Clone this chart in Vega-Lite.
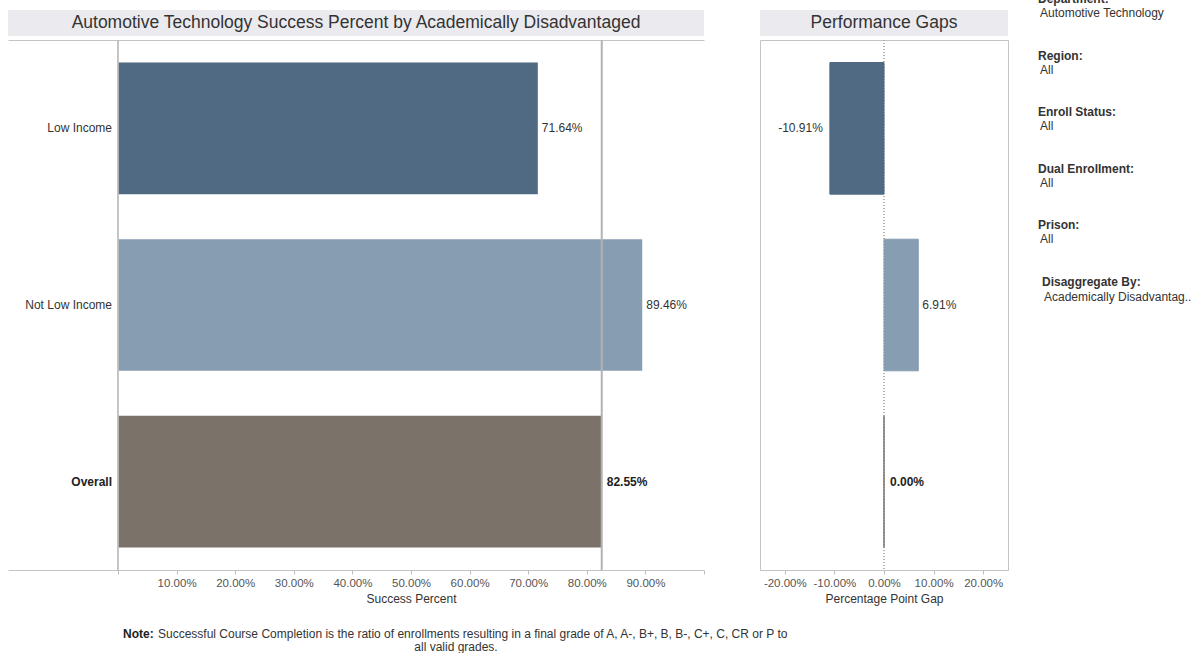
{
  "$schema": "https://vega.github.io/schema/vega-lite/v6.json",
  "background": "white",
  "padding": {"left": 8, "top": -7, "right": 0, "bottom": 0},
  "config": {
    "font": "Liberation Sans",
    "view": {"stroke": null},
    "locale": {
      "number": {"decimal": ".", "thousands": ",", "grouping": [3], "currency": ["$", ""], "minus": "-"}
    },
    "axis": {
      "labelFont": "Liberation Sans",
      "labelFontSize": 11.5,
      "labelColor": "#555555",
      "titleFont": "Liberation Sans",
      "titleFontSize": 12,
      "titleFontWeight": "normal",
      "titleColor": "#333333",
      "tickColor": "#BDBDBD",
      "domainColor": "#C4C4C4",
      "tickSize": 4,
      "labelPadding": 3,
      "titlePadding": 5,
      "grid": false
    }
  },
  "datasets": {
    "groups": [
      {"group": "Low Income", "success": 0.7164, "gap": -0.1091},
      {"group": "Not Low Income", "success": 0.8946, "gap": 0.0691},
      {"group": "Overall", "success": 0.8255, "gap": 0.0}
    ],
    "filters": [
      {"filter": "Department:", "setting": "Automotive Technology"},
      {"filter": "Region:", "setting": "All"},
      {"filter": "Enroll Status:", "setting": "All"},
      {"filter": "Dual Enrollment:", "setting": "All"},
      {"filter": "Prison:", "setting": "All"},
      {"filter": "Disaggregate By:", "setting": "Academically Disadvantag.."}
    ]
  },
  "spacing": 22,
  "vconcat": [
    {
      "spacing": 29,
      "hconcat": [
        {
          "spacing": 54,
          "hconcat": [
            {
              "spacing": 3,
              "vconcat": [
                {
                  "width": 696,
                  "height": 26,
                  "view": {"fill": "#EBEBEF", "stroke": null},
                  "data": {"values": [{"heading": "Automotive Technology Success Percent by Academically Disadvantaged"}]},
                  "mark": {"type": "text", "fontSize": 17.5, "color": "#333333", "baseline": "middle"},
                  "encoding": {"text": {"field": "heading"}}
                },
                {
                  "width": 696,
                  "height": 530,
                  "data": {"name": "groups"},
                  "resolve": {"axis": {"x": "independent"}},
                  "layer": [
                    {
                      "mark": {"type": "bar"},
                      "encoding": {
                        "y": {"field": "group", "type": "nominal", "sort": null, "title": null,
                              "scale": {"paddingInner": 0.255, "paddingOuter": 0.1275},
                              "axis": {"orient": "right", "labels": false, "ticks": false, "title": null, "domainColor": "#C4C4C4"}},
                        "x": {"field": "success", "type": "quantitative",
                              "scale": {"domain": [-0.18771, 1], "nice": false, "zero": false},
                              "axis": {"orient": "bottom", "title": "Success Percent", "titleX": 403, "format": ".2%",
                                       "values": [0, 0.1, 0.2, 0.3, 0.4, 0.5, 0.6, 0.7, 0.8, 0.9, 1],
                                       "labelExpr": "datum.value < 0.001 || datum.value > 0.999 ? '' : datum.label"}},
                        "color": {"field": "group", "type": "nominal",
                                  "scale": {"domain": ["Low Income", "Not Low Income", "Overall"], "range": ["#4F6A82", "#879DB2", "#7B736A"]},
                                  "legend": null}
                      }
                    },
                    {
                      "mark": {"type": "rule", "color": "#BDBDBD"},
                      "encoding": {
                        "x": {"datum": 0, "type": "quantitative",
                              "axis": {"orient": "top", "labels": false, "ticks": false, "title": null, "domainColor": "#C4C4C4"}}
                      }
                    },
                    {
                      "transform": [{"filter": "datum.group === 'Overall'"}],
                      "mark": {"type": "rule", "color": "#B3B3B3", "strokeWidth": 2},
                      "encoding": {"x": {"field": "success", "type": "quantitative", "axis": null}}
                    },
                    {
                      "transform": [{"filter": "datum.group !== 'Overall'"}],
                      "mark": {"type": "text", "align": "right", "baseline": "middle", "dx": -6, "fontSize": 12, "color": "#333333"},
                      "encoding": {
                        "y": {"field": "group", "type": "nominal", "sort": null, "axis": null},
                        "x": {"datum": 0, "type": "quantitative", "axis": null},
                        "text": {"field": "group"}
                      }
                    },
                    {
                      "transform": [{"filter": "datum.group === 'Overall'"}],
                      "mark": {"type": "text", "align": "right", "baseline": "middle", "dx": -6, "fontSize": 12, "fontWeight": "bold", "color": "#222222"},
                      "encoding": {
                        "y": {"field": "group", "type": "nominal", "sort": null, "axis": null},
                        "x": {"datum": 0, "type": "quantitative", "axis": null},
                        "text": {"field": "group"}
                      }
                    },
                    {
                      "transform": [{"filter": "datum.group !== 'Overall'"}],
                      "mark": {"type": "text", "align": "left", "baseline": "middle", "dx": 4, "fontSize": 12, "color": "#333333"},
                      "encoding": {
                        "y": {"field": "group", "type": "nominal", "sort": null, "axis": null},
                        "x": {"field": "success", "type": "quantitative", "axis": null},
                        "text": {"field": "success", "type": "quantitative", "format": ".2%"}
                      }
                    },
                    {
                      "transform": [{"filter": "datum.group === 'Overall'"}],
                      "mark": {"type": "text", "align": "left", "baseline": "middle", "dx": 5, "fontSize": 12, "fontWeight": "bold", "color": "#222222"},
                      "encoding": {
                        "y": {"field": "group", "type": "nominal", "sort": null, "axis": null},
                        "x": {"field": "success", "type": "quantitative", "axis": null},
                        "text": {"field": "success", "type": "quantitative", "format": ".2%"}
                      }
                    }
                  ]
                }
              ]
            },
            {
              "spacing": 3,
              "vconcat": [
                {
                  "width": 248,
                  "height": 26,
                  "view": {"fill": "#EBEBEF", "stroke": null},
                  "data": {"values": [{"heading": "Performance Gaps"}]},
                  "mark": {"type": "text", "fontSize": 17.5, "color": "#333333", "baseline": "middle"},
                  "encoding": {"text": {"field": "heading"}}
                },
                {
                  "width": 248,
                  "height": 530,
                  "view": {"stroke": "#C4C4C4"},
                  "data": {"name": "groups"},
                  "layer": [
                    {
                      "mark": {"type": "rule", "color": "#A8A8A8", "strokeDash": [1, 2]},
                      "encoding": {"x": {"datum": 0, "type": "quantitative"}}
                    },
                    {
                      "mark": {"type": "bar", "strokeWidth": 1},
                      "encoding": {
                        "y": {"field": "group", "type": "nominal", "sort": null,
                              "scale": {"paddingInner": 0.255, "paddingOuter": 0.1275}, "axis": null},
                        "x": {"field": "gap", "type": "quantitative",
                              "scale": {"domain": [-0.25, 0.25], "nice": false, "zero": false},
                              "axis": {"title": "Percentage Point Gap", "format": ".2%",
                                       "values": [-0.2, -0.1, 0, 0.1, 0.2]}},
                        "color": {"field": "group", "type": "nominal",
                                  "scale": {"domain": ["Low Income", "Not Low Income", "Overall"], "range": ["#4F6A82", "#879DB2", "#7B736A"]},
                                  "legend": null},
                        "stroke": {"field": "group", "type": "nominal",
                                   "scale": {"domain": ["Low Income", "Not Low Income", "Overall"], "range": ["#4F6A82", "#879DB2", "#7B736A"]},
                                   "legend": null}
                      }
                    },
                    {
                      "transform": [{"filter": "datum.gap < 0"}],
                      "mark": {"type": "text", "align": "right", "baseline": "middle", "dx": -7, "fontSize": 12, "color": "#333333"},
                      "encoding": {
                        "y": {"field": "group", "type": "nominal", "sort": null, "axis": null},
                        "x": {"field": "gap", "type": "quantitative"},
                        "text": {"field": "gap", "type": "quantitative", "format": ".2%"}
                      }
                    },
                    {
                      "transform": [{"filter": "datum.gap > 0"}],
                      "mark": {"type": "text", "align": "left", "baseline": "middle", "dx": 4, "fontSize": 12, "color": "#333333"},
                      "encoding": {
                        "y": {"field": "group", "type": "nominal", "sort": null, "axis": null},
                        "x": {"field": "gap", "type": "quantitative"},
                        "text": {"field": "gap", "type": "quantitative", "format": ".2%"}
                      }
                    },
                    {
                      "transform": [{"filter": "datum.gap === 0"}],
                      "mark": {"type": "text", "align": "left", "baseline": "middle", "dx": 6, "fontSize": 12, "fontWeight": "bold", "color": "#222222"},
                      "encoding": {
                        "y": {"field": "group", "type": "nominal", "sort": null, "axis": null},
                        "x": {"field": "gap", "type": "quantitative"},
                        "text": {"field": "gap", "type": "quantitative", "format": ".2%"}
                      }
                    }
                  ]
                }
              ]
            }
          ]
        },
        {
          "width": 154,
          "height": 310,
          "data": {"name": "filters"},
          "encoding": {
            "y": {"field": "filter", "type": "nominal", "sort": null,
                  "scale": {"type": "point", "padding": 0.24, "align": 0}, "axis": null},
            "x": {"datum": 0, "type": "quantitative", "scale": {"domain": [0, 1]}, "axis": null}
          },
          "layer": [
            {
              "transform": [{"filter": "datum.filter !== 'Disaggregate By:'"}],
              "mark": {"type": "text", "align": "left", "baseline": "middle", "dy": -11, "fontSize": 12, "fontWeight": "bold", "color": "#333333"},
              "encoding": {"text": {"field": "filter"}}
            },
            {
              "transform": [{"filter": "datum.filter !== 'Disaggregate By:'"}],
              "mark": {"type": "text", "align": "left", "baseline": "middle", "dx": 2, "dy": 3, "fontSize": 12, "color": "#333333"},
              "encoding": {"text": {"field": "setting"}}
            },
            {
              "transform": [{"filter": "datum.filter === 'Disaggregate By:'"}],
              "mark": {"type": "text", "align": "left", "baseline": "middle", "dx": 4, "dy": -11, "fontSize": 12, "fontWeight": "bold", "color": "#333333"},
              "encoding": {"text": {"field": "filter"}}
            },
            {
              "transform": [{"filter": "datum.filter === 'Disaggregate By:'"}],
              "mark": {"type": "text", "align": "left", "baseline": "middle", "dx": 6, "dy": 4, "fontSize": 12, "color": "#333333"},
              "encoding": {"text": {"field": "setting"}}
            }
          ]
        }
      ]
    },
    {
      "width": 894,
      "height": 26,
      "data": {"values": [{}]},
      "layer": [
        {
          "mark": {"type": "text", "text": "Note:", "align": "left", "baseline": "middle", "dx": -332, "dy": -6, "fontSize": 12, "fontWeight": "bold", "color": "#222222"}
        },
        {
          "mark": {"type": "text", "text": "Successful Course Completion is the ratio of enrollments resulting in a final grade of A, A-, B+, B, B-, C+, C, CR or P to", "align": "left", "baseline": "middle", "dx": -297, "dy": -6, "fontSize": 12, "color": "#333333"}
        },
        {
          "mark": {"type": "text", "text": "all valid grades.", "align": "center", "baseline": "middle", "dx": 1, "dy": 7, "fontSize": 12, "color": "#333333"}
        }
      ]
    }
  ]
}
